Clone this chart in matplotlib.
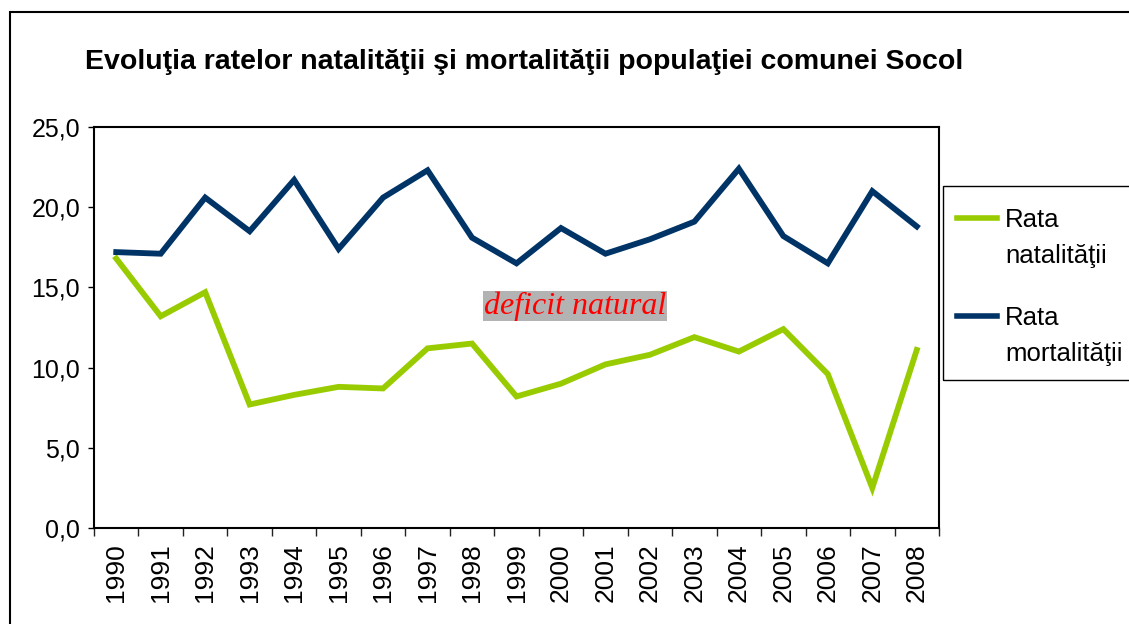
import numpy as np
import matplotlib.pyplot as plt
from matplotlib.lines import Line2D
from matplotlib.patches import Rectangle

plt.rcParams['font.family'] = ['Liberation Sans', 'DejaVu Sans']

years = [str(y) for y in range(1990, 2009)]
natalitate = [16.8, 13.2, 14.7, 7.7, 8.3, 8.8, 8.7, 11.2, 11.5, 8.2,
              9.0, 10.2, 10.8, 11.9, 11.0, 12.4, 9.6, 2.5, 11.1]
mortalitate = [17.2, 17.1, 20.6, 18.5, 21.7, 17.4, 20.6, 22.3, 18.1, 16.5,
               18.7, 17.1, 18.0, 19.1, 22.4, 18.2, 16.5, 21.0, 18.8]
yticks = [0, 5, 10, 15, 20, 25]
green = '#99CC00'
blue = '#003366'

W, H = 1129, 624
fig = plt.figure(figsize=(W / 100, H / 100), dpi=100)

# outer chart border
fig.add_artist(Rectangle((10 / W, -0.2), 2, 1.2 - 12 / H, transform=fig.transFigure,
                         fill=False, edgecolor='black', lw=1.5))

ax = fig.add_axes([94 / W, (H - 528) / H, (939 - 94) / W, (528 - 127) / H])
x = np.arange(len(years))
ax.plot(x, natalitate, color=green, lw=4.2, solid_joinstyle='miter')
ax.plot(x, mortalitate, color=blue, lw=4.2, solid_joinstyle='miter')

ax.set_xlim(-0.5, len(years) - 0.5)
ax.set_ylim(0, 25)
ax.set_yticks(yticks)
ax.set_yticklabels([f'{v:.1f}'.replace('.', ',') for v in yticks], fontsize=18)
ax.set_xticks(np.arange(len(years) + 1) - 0.5)
ax.set_xticklabels([])
ax.set_xticks(x, minor=True)
ax.set_xticklabels(years, minor=True, rotation=90, fontsize=19)
ax.tick_params(axis='x', which='minor', length=0, pad=11)
ax.tick_params(axis='x', which='major', length=6, width=1, color='#222222')
ax.tick_params(axis='y', length=4, width=1, pad=6)
for s in ax.spines.values():
    s.set_linewidth(1.5)

fig.text(575 / W, 1 - 306 / H, 'deficit natural', color='red', fontsize=23,
         style='italic', family='Liberation Serif', ha='center', va='center',
         bbox=dict(facecolor='#b3b3b3', edgecolor='none', pad=0.5))

fig.text(85 / W, 1 - 62 / H, 'Evoluţia ratelor natalităţii şi mortalităţii populaţiei comunei Socol',
         fontsize=20.5, fontweight='bold', va='center', ha='left')

# legend
fig.add_artist(Rectangle((943 / W, 1 - 380 / H), 200 / W, 194 / H, transform=fig.transFigure,
                         fill=False, edgecolor='black', lw=1))
for yy, col, lines in [(218, green, ['Rata', 'natalităţii']),
                       (316, blue, ['Rata', 'mortalităţii'])]:
    fig.add_artist(Line2D([957 / W, 997 / W], [1 - yy / H] * 2, color=col, lw=4,
                          transform=fig.transFigure))
    for i, t in enumerate(lines):
        fig.text(1005 / W, 1 - (yy + 2 + 36 * i) / H, t, fontsize=18.5,
                 va='center', ha='left')

fig.savefig('out.png', dpi=100)
